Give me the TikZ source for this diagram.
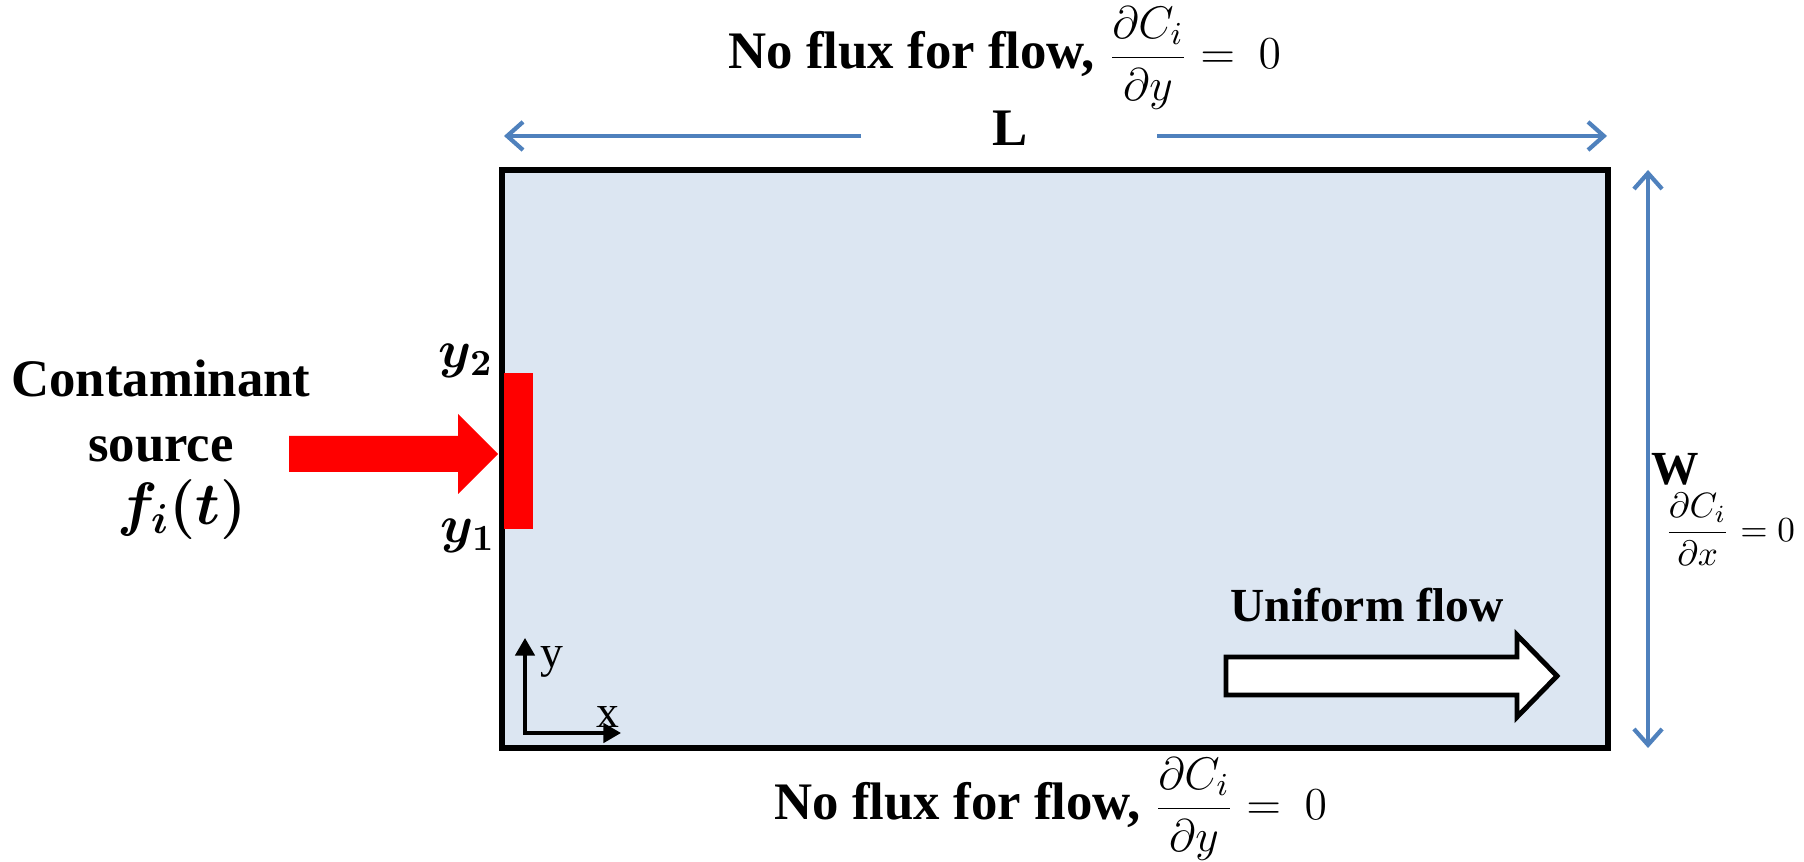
\RequirePackage{fix-cm}
\documentclass[tikz,border=0pt]{standalone}
\usepackage{amsmath,bm}
\usepackage{fontspec}
\setmainfont{Liberation Serif}
\usetikzlibrary{arrows.meta}
\definecolor{panel}{HTML}{DCE6F2}
\definecolor{dimblue}{HTML}{4F81BD}
\newcommand{\fluxeq}{No flux for flow, {\fontsize{13}{15}\selectfont$\dfrac{\partial C_i}{\partial y}=\hspace{3pt}0$}}
\begin{document}
\begin{tikzpicture}[x=0.01cm,y=-0.01cm,
  titletxt/.style={font=\fontsize{15}{18}\selectfont\bfseries, inner sep=0pt},
  bigtxt/.style={font=\fontsize{15}{18}\selectfont\bfseries, inner sep=0pt},
  midtxt/.style={font=\fontsize{13.5}{16}\selectfont\bfseries, inner sep=0pt},
  axtxt/.style={font=\fontsize{13}{15}\selectfont, inner sep=0pt},
  dimline/.style={draw=dimblue, line width=1.2pt,
     {Straight Barb[length=4.5pt,width=8pt]}-{Straight Barb[length=4.5pt,width=8pt]}},
  halfdim/.style={draw=dimblue, line width=1.2pt, -{Straight Barb[length=4.5pt,width=8pt]}},
  axisline/.style={draw=black, line width=1pt,
     {Triangle[length=5pt,width=5.5pt]}-{Triangle[length=5pt,width=5.5pt]}},
]
\useasboundingbox (0,0) rectangle (1804,862);

% domain
\coordinate (NW) at (502,170);
\coordinate (SE) at (1608,748);
\draw[line width=1.5pt, fill=panel] (NW) rectangle (SE);

% top title
\node[titletxt, anchor=base west] (toptitle) at (728,69) {\fluxeq};

% L dimension
\node[titletxt] (L) at (1010,128) {L};
\coordinate (Lla) at (861,136);
\coordinate (Llb) at (504,136);
\coordinate (Lra) at (1157,136);
\coordinate (Lrb) at (1607,136);
\draw[halfdim] (Lla) -- (Llb);
\draw[halfdim] (Lra) -- (Lrb);

% W dimension
\coordinate (Wt) at (1648,170);
\coordinate (Wb) at (1648,748);
\draw[dimline] (Wt) -- (Wb);
\node[midtxt] (W) at (1675,469) {W};
\node[inner sep=0pt, font=\fontsize{10}{12}\selectfont, anchor=west] (bcx) at (1664,529)
  {$\dfrac{\partial C_i}{\partial x}=0$};

% source
\fill[red] (504,373) rectangle (533,529);
\fill[red] (289,436) -- (458,436) -- (458,414) -- (498,454) -- (458,494) -- (458,472) -- (289,472) -- cycle;
\node[bigtxt] (y2) at (466,361) {$\bm{y_2}$};
\node[bigtxt] (y1) at (468,536) {$\bm{y_1}$};
\node[bigtxt, anchor=base] (c1) at (161,397) {Contaminant};
\node[bigtxt, anchor=base] (c2) at (161,462) {source};
\node[bigtxt, font=\fontsize{17}{20}\selectfont, anchor=base] (c3) at (182,525) {$\bm{f_i(t)}$};

% axes
\coordinate (O) at (525,733);
\coordinate (Ya) at (525,638);
\coordinate (Xa) at (621,733);
\draw[axisline] (Ya) -- (O) -- (Xa);
\node[axtxt] (ylab) at (552,662) {y};
\node[axtxt] (xlab) at (608,717) {x};

% uniform flow
\node[midtxt, anchor=base] (uf) at (1367,622) {Uniform flow};
\draw[line width=1.4pt, fill=white] (1226,657) -- (1517,657) -- (1517,635) -- (1557,676)
  -- (1517,717) -- (1517,695) -- (1226,695) -- cycle;

% bottom title
\node[titletxt, anchor=base west] (bottitle) at (774,820) {\fluxeq};
\end{tikzpicture}
\end{document}
